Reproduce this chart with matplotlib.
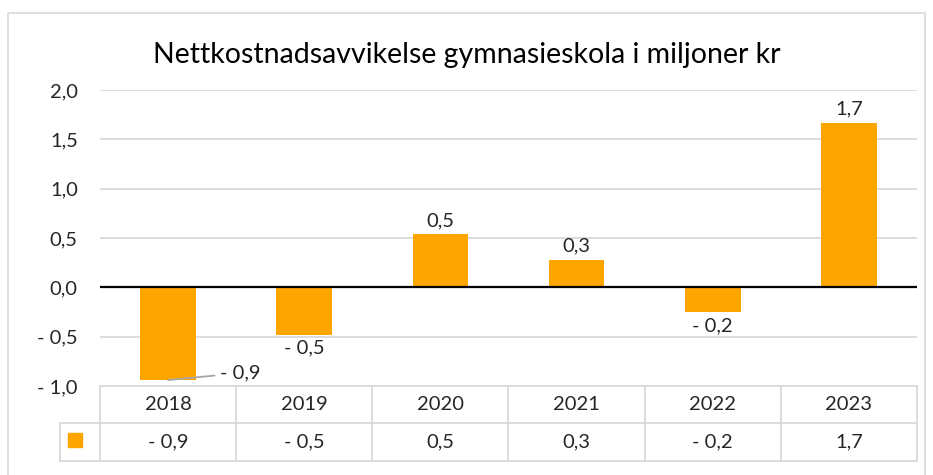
import matplotlib
matplotlib.use('Agg')
import matplotlib.pyplot as plt
import matplotlib.transforms as mtransforms
from matplotlib.patches import Rectangle

plt.rcParams['font.family'] = ['Lato', 'DejaVu Sans']

years = ['2018', '2019', '2020', '2021', '2022', '2023']
values = [-0.94, -0.48, 0.54, 0.28, -0.25, 1.67]
yticks = [-1.0, -0.5, 0.0, 0.5, 1.0, 1.5, 2.0]
title = 'Nettkostnadsavvikelse gymnasieskola i miljoner kr'

bar_color = '#FFA500'
grid_color = '#d9d9d9'
text_color = '#262626'
fs = 14.5


def fmt(v):
    s = f'{abs(v):.1f}'.replace('.', ',')
    return ('- ' + s) if round(v, 1) < 0 else s


W, H = 933, 475
fig = plt.figure(figsize=(W / 100, H / 100), dpi=100)

# overlay axes in pixel coordinates (y down) for frame and table
over = fig.add_axes([0, 0, 1, 1])
over.set_xlim(0, W)
over.set_ylim(H, 0)
over.axis('off')
over.add_patch(Rectangle((8, 13), 917, 480, fill=False, edgecolor=grid_color, lw=1.2))

# plot area: x 100..917, y(2.0)=90 .. y(-1.0)=386
left, right = 100, 917
top, bottom = 90, 386
ax = fig.add_axes([left / W, 1 - bottom / H, (right - left) / W, (bottom - top) / H])
x = list(range(len(years)))
ax.bar(x, values, width=0.41, color=bar_color, zorder=3)
ax.set_xlim(-0.5, len(years) - 0.5)
ax.set_ylim(-1.0, 2.0)
ax.set_yticks(yticks)
ax.set_yticklabels([fmt(t) for t in yticks], fontsize=fs, color=text_color)
ax.tick_params(axis='y', length=0, pad=16)
ax.set_xticks([])
for s in ax.spines.values():
    s.set_visible(False)
ax.grid(axis='y', color=grid_color, lw=1.3, zorder=0)
ax.axhline(0, color='black', lw=1.6, zorder=4)

# data labels
for i, v in enumerate(values):
    if i == 0:
        ax.annotate(fmt(v), xy=(i, v), xytext=(52, 7), textcoords='offset pixels',
                    ha='left', va='center', fontsize=fs, color=text_color,
                    arrowprops=dict(arrowstyle='-', color='#a6a6a6', lw=1.3,
                                    shrinkA=2, shrinkB=0))
    elif v >= 0:
        ax.annotate(fmt(v), xy=(i, v), xytext=(0, 5), textcoords='offset pixels',
                    ha='center', va='bottom', fontsize=fs, color=text_color)
    else:
        ax.annotate(fmt(v), xy=(i, v), xytext=(0, -5), textcoords='offset pixels',
                    ha='center', va='top', fontsize=fs, color=text_color)

ax.text(0.5, 1 - 55 / H, title, transform=fig.transFigure, ha='center', va='center',
        fontsize=20.5, color='black')

# data table below the axis
tr = mtransforms.blended_transform_factory(ax.transData, over.transData)
row0, row1, row2 = 386, 423, 461
n = len(years)
lw_t = 1.3
for r in (row0, row1, row2):
    over.plot([-0.5, n - 0.5], [r, r], transform=tr, color=grid_color, lw=lw_t)
over.plot([60, left], [row1, row1], color=grid_color, lw=lw_t)
over.plot([60, left], [row2, row2], color=grid_color, lw=lw_t)
over.plot([60, 60], [row1, row2], color=grid_color, lw=lw_t)
for k in range(n + 1):
    over.plot([k - 0.5, k - 0.5], [row0, row2], transform=tr, color=grid_color, lw=lw_t)
for i, (yr, v) in enumerate(zip(years, values)):
    over.text(i, (row0 + row1) / 2, yr, transform=tr, ha='center', va='center',
              fontsize=fs, color=text_color)
    over.text(i, (row1 + row2) / 2, fmt(v), transform=tr, ha='center', va='center',
              fontsize=fs, color=text_color)
over.add_patch(Rectangle((68, 433), 14, 14, color=bar_color))

fig.savefig('out.png', dpi=100)
